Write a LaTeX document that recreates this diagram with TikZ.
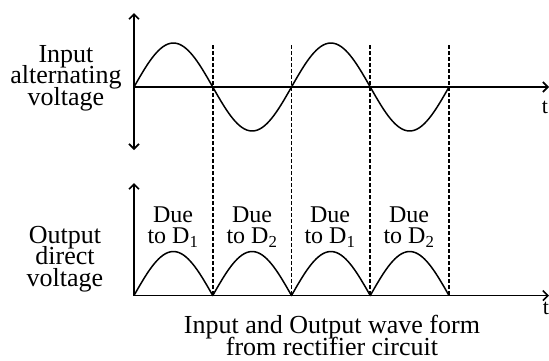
\documentclass[tikz,border=0pt]{standalone}
\usepackage{fontspec}
\setmainfont{Liberation Serif}
\usetikzlibrary{arrows.meta}
\newcommand\mytight{\lineskiplimit-20pt\relax}
\begin{document}
\begin{tikzpicture}[x=1pt,y=-1pt,
 axis/.style={line width=1.6pt, -{Straight Barb[length=5pt,width=10pt]}},
 daxis/.style={line width=1.6pt, {Straight Barb[length=5pt,width=10pt]}-{Straight Barb[length=5pt,width=10pt]}},
 wave/.style={line width=1.5pt, line join=round},
 guide/.style={line width=1.6pt, dash pattern=on 3.5pt off 2.5pt},
 side/.style={align=center, font={\fontsize{26}{21.5}\selectfont\mytight}, inner sep=0pt},
 due/.style={align=center, font={\fontsize{24}{21.5}\selectfont\mytight}, inner sep=0pt},
 tlabel/.style={font={\fontsize{22}{22}\selectfont}, inner sep=0pt}]
\useasboundingbox (0,0) rectangle (549,360);
% axes coordinates
\coordinate (o1) at (134,87);
\coordinate (up1) at (134,13);
\coordinate (dn1) at (134,150);
\coordinate (e1) at (549,87);
\coordinate (o2) at (134,295.5);
\coordinate (up2) at (134,183);
\coordinate (e2) at (549,295.5);
% dashed guides
\foreach \i in {1,2,3,4}{
  \coordinate (g\i t) at ({134+78.75*\i},45);
  \coordinate (g\i b) at ({134+78.75*\i},295.5);
  \draw[guide] (g\i t) -- (g\i b);
}
% waves
\draw[wave] plot[domain=0:315, samples=141] ({134+\x},{87-44*sin(\x/78.75*180)});
\draw[wave] plot[domain=0:315, samples=141] ({134+\x},{295.5-44*abs(sin(\x/78.75*180))});
% axes
\draw[daxis] (dn1) -- (up1);
\draw[axis] (o1) -- (e1);
\draw[axis] (o2) -- (up2);
\draw[axis] (o2) -- (e2);
% labels
\node[side] (inlab) at (66,78) {Input\\alternating\\voltage};
\node[side] (outlab) at (65,259) {Output\\direct\\voltage};
\node[due] (due1) at (173,227) {Due\\to D\textsubscript{1}};
\node[due] (due2) at (252,227) {Due\\to D\textsubscript{2}};
\node[due] (due3) at (330,227) {Due\\to D\textsubscript{1}};
\node[due] (due4) at (409,227) {Due\\to D\textsubscript{2}};
\node[side] (cap) at (332,335.5) {Input and Output wave form\\from rectifier circuit};
\node[tlabel] (tt) at (545,107) {t};
\node[tlabel] (tb) at (546,308) {t};
\end{tikzpicture}
\end{document}
